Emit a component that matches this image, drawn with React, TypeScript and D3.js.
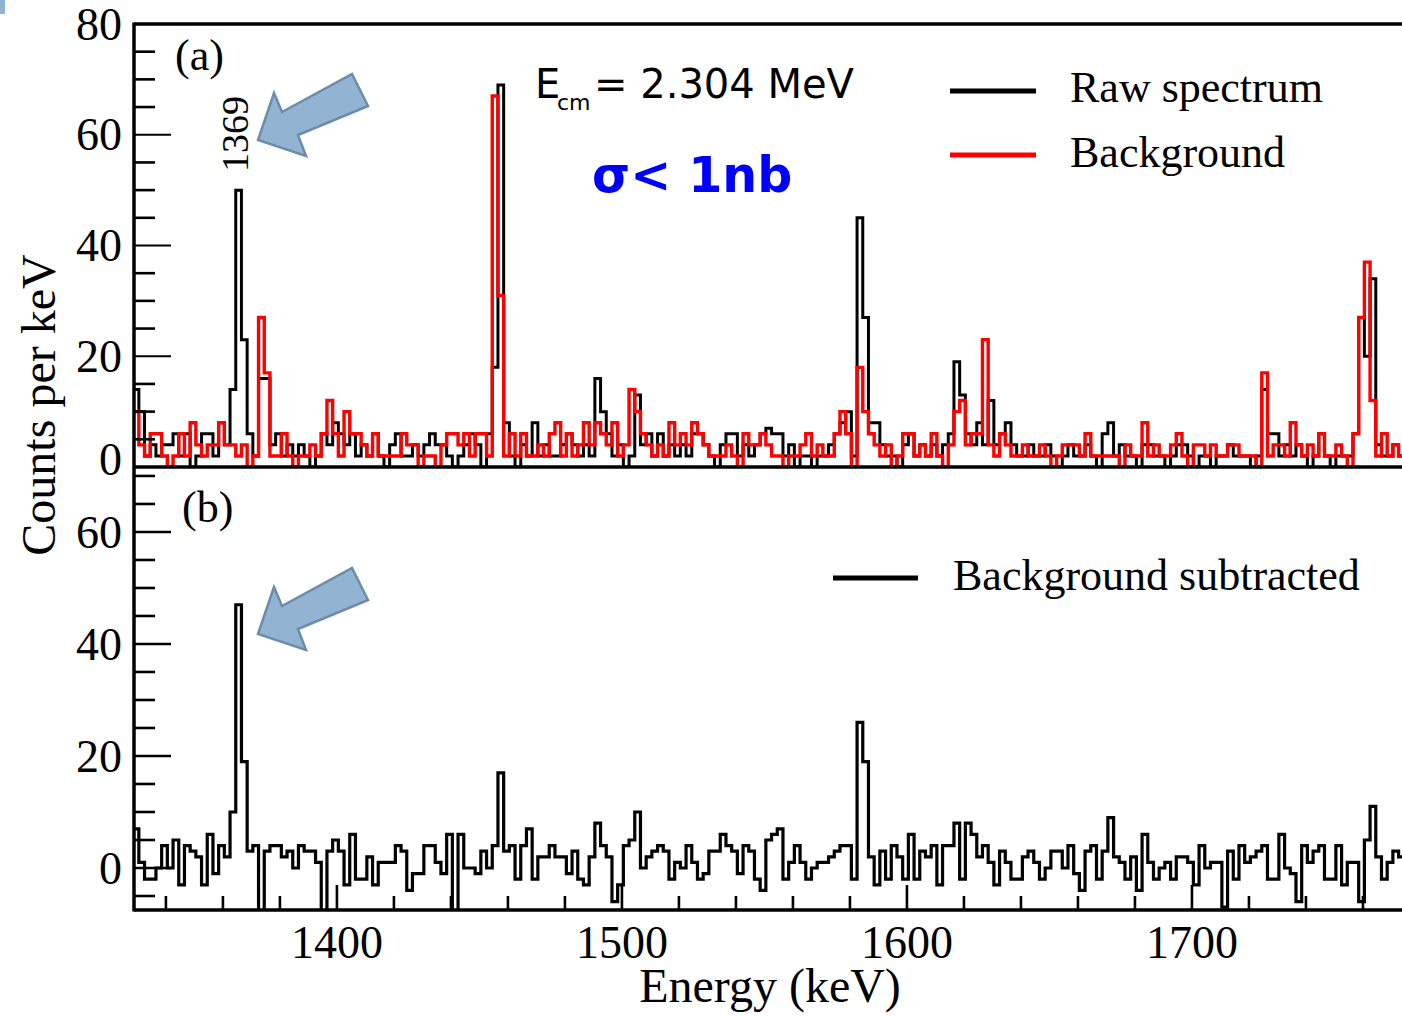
import React from 'react';
import * as d3 from 'd3';

// Histogram binning (keV)
const BIN_START = 1328.5;
const BIN_WIDTH = 2;

// (a) raw spectrum, counts per keV
const rawSpectrum = [
  14, 10, 2, 4, 2, 4, 4, 6, 2, 6,
  0, 2, 6, 6, 2, 8, 4, 14, 50, 23,
  6, 2, 16, 16, 4, 6, 2, 4, 2, 4,
  2, 0, 2, 6, 4, 8, 6, 4, 6, 2,
  4, 2, 6, 2, 0, 4, 6, 2, 2, 4,
  2, 4, 6, 4, 4, 2, 0, 2, 4, 6,
  4, 0, 6, 18, 69, 8, 2, 0, 4, 2,
  8, 2, 4, 2, 2, 4, 6, 4, 2, 4,
  2, 16, 10, 6, 2, 4, 0, 2, 13, 4,
  6, 2, 6, 2, 4, 2, 4, 2, 6, 6,
  4, 2, 0, 4, 6, 6, 2, 4, 2, 4,
  6, 7, 6, 6, 2, 4, 0, 2, 2, 0,
  2, 2, 4, 6, 8, 10, 2, 45, 27, 8,
  8, 4, 2, 2, 0, 4, 6, 2, 4, 2,
  4, 2, 4, 6, 19, 13, 6, 4, 8, 4,
  12, 4, 6, 8, 4, 2, 2, 4, 2, 2,
  4, 2, 0, 2, 4, 2, 2, 4, 2, 0,
  6, 8, 2, 4, 2, 2, 0, 4, 4, 2,
  2, 0, 2, 4, 4, 2, 0, 2, 2, 0,
  2, 2, 4, 2, 2, 2, 0, 2, 14, 6,
  6, 2, 4, 2, 4, 2, 0, 2, 6, 2,
  0, 2, 2, 2, 6, 27, 20, 34, 4, 2,
  2, 4, 2,
];

// (a) background, counts per keV
const background = [
  10, 4, 2, 6, 6, 2, 0, 2, 6, 2,
  8, 4, 2, 4, 4, 8, 4, 4, 2, 4,
  0, 2, 27, 17, 2, 2, 6, 2, 0, 2,
  2, 4, 2, 6, 12, 6, 2, 10, 6, 6,
  4, 2, 6, 2, 2, 2, 2, 6, 4, 4,
  0, 2, 2, 0, 4, 6, 6, 4, 6, 2,
  6, 6, 2, 67, 31, 2, 6, 2, 6, 2,
  2, 4, 2, 6, 8, 2, 6, 2, 4, 8,
  4, 8, 6, 4, 8, 2, 4, 14, 10, 6,
  4, 2, 4, 2, 8, 4, 6, 4, 8, 6,
  4, 2, 2, 2, 4, 2, 0, 6, 4, 4,
  6, 4, 2, 2, 0, 2, 2, 4, 6, 2,
  4, 2, 2, 6, 10, 6, 0, 18, 10, 6,
  4, 2, 4, 0, 2, 6, 6, 2, 4, 2,
  6, 2, 0, 4, 10, 12, 4, 6, 6, 23,
  4, 2, 6, 4, 2, 2, 4, 2, 2, 4,
  2, 0, 2, 4, 4, 4, 2, 6, 2, 2,
  2, 2, 2, 0, 4, 2, 2, 8, 2, 4,
  2, 2, 4, 6, 2, 0, 4, 4, 2, 4,
  2, 2, 4, 4, 2, 2, 2, 0, 17, 2,
  4, 4, 2, 8, 4, 2, 4, 2, 6, 2,
  2, 4, 2, 0, 6, 27, 37, 12, 2, 6,
  2, 4, 2,
];

// (b) background subtracted, counts per keV
const subtracted = [
  7, 1, -2, -2, 0, 4, 0, 5, -3, 4,
  3, 2, -3, 6, -1, 4, 2, 10, 47, 19,
  3, 4, -8, 3, 4, 4, 2, 3, 0, 4,
  3, 3, 1, -8, 3, 5, 3, -3, 6, -2,
  -2, 2, -3, 1, 1, 1, 4, 3, -4, -1,
  -1, 4, 4, 1, -1, 6, -8, 6, 0, 0,
  -1, 3, 0, 4, 17, 3, 4, -2, 4, 7,
  -2, 2, 2, 4, 2, 2, -1, 3, -2, -3,
  2, 8, 4, 2, -6, -3, 4, 5, 10, 0,
  2, 3, 4, 3, -2, 1, 0, 4, 1, -2,
  -1, 3, 3, 6, 4, 3, -1, 4, 3, -2,
  -4, 5, 6, 7, -2, 1, 4, 1, -2, 0,
  1, 1, 2, 3, 4, 4, -2, 26, 19, 2,
  -3, 3, -2, 4, 2, -2, 6, -2, 3, 2,
  4, -3, 4, 4, 8, -2, 8, 6, 2, 4,
  1, -3, 3, 1, -2, -2, 2, 3, 1, -2,
  0, 3, 3, 0, 4, -1, -4, 3, 4, -2,
  3, 9, 2, 1, -2, 2, -4, 6, 1, -2,
  0, 1, -2, 2, 2, 1, -3, 4, 0, 1,
  1, -7, 3, -2, 4, 1, 2, 3, 4, -2,
  -2, 6, 0, -1, -6, 4, 1, 3, 4, -2,
  -2, 4, -3, 1, 1, -6, 5, 11, 2, -2,
  1, 3, 2,
];

const xTickMajor = [1400, 1500, 1600, 1700];
const xTickMinor = [1340, 1360, 1380, 1420, 1440, 1460, 1480, 1520, 1540, 1560, 1580, 1620, 1640, 1660, 1680, 1720, 1740, 1760];
const topYLabels = [0, 20, 40, 60, 80];
const topYMinor = [5, 10, 15, 25, 30, 35, 45, 50, 55, 65, 70, 75];
const topYMajor = [20, 40, 60];
const botYLabels = [0, 20, 40, 60];
const botYMinor = [-5, 5, 10, 15, 25, 30, 35, 45, 50, 55, 65, 70];
const botYMajor = [0, 20, 40, 60];

const W = 1402;
const H = 1016;
const LEFT = 134;
const RIGHT = 1402;
const TOP = 24;
const MID = 467;
const BOTTOM = 910;

const SERIF = '"Liberation Serif", "Times New Roman", serif';
const SANS = '"DejaVu Sans", sans-serif';

const x = d3.scaleLinear().domain([1328.8, 1773.7]).range([LEFT, RIGHT]);
const yTop = d3.scaleLinear().domain([0, 80]).range([MID, TOP]);
const yBot = d3.scaleLinear().domain([-7.5, 71.6]).range([BOTTOM, MID]);

function histPath(values: number[], y: d3.ScaleLinear<number, number>) {
  const pts: [number, number][] = values.map((v, i) => [BIN_START + i * BIN_WIDTH, v]);
  pts.push([BIN_START + values.length * BIN_WIDTH, values[values.length - 1]]);
  const line = d3
    .line<[number, number]>()
    .x((d) => x(d[0]))
    .y((d) => y(d[1]))
    .curve(d3.curveStepAfter);
  return line(pts) || '';
}

const arrowPts = '258,140 274,93 282,112 352,74 368,106 298,135 306,156';

export default function App() {
  return (
    <svg
      width={W}
      height={H}
      viewBox={`0 0 ${W} ${H}`}
      style={{ position: 'absolute', left: 0, top: 0, background: '#fff' }}
    >
      <defs>
        <clipPath id="clipTop">
          <rect x={LEFT} y={TOP} width={RIGHT - LEFT + 10} height={MID - TOP} />
        </clipPath>
        <clipPath id="clipBot">
          <rect x={LEFT} y={MID} width={RIGHT - LEFT + 10} height={BOTTOM - MID} />
        </clipPath>
      </defs>
      <rect x={0} y={0} width={W} height={H} fill="#fff" />
      <rect x={0} y={0} width={5} height={14} fill="#8fb3d6" />

      {/* top panel data */}
      <g clipPath="url(#clipTop)">
        <path d={histPath(rawSpectrum, yTop)} fill="none" stroke="#000" strokeWidth={3} strokeLinejoin="miter" />
        <path d={histPath(background, yTop)} fill="none" stroke="#ff0000" strokeWidth={3.4} strokeLinejoin="miter" />
      </g>
      {/* bottom panel data */}
      <g clipPath="url(#clipBot)">
        <path d={histPath(subtracted, yBot)} fill="none" stroke="#000" strokeWidth={3.2} strokeLinejoin="miter" />
      </g>

      {/* y ticks top */}
      {topYMinor.map((v) => (
        <line key={'tm' + v} x1={LEFT} x2={LEFT + 21} y1={yTop(v)} y2={yTop(v)} stroke="#000" strokeWidth={2.6} />
      ))}
      {topYMajor.map((v) => (
        <line key={'tM' + v} x1={LEFT} x2={LEFT + 37} y1={yTop(v)} y2={yTop(v)} stroke="#000" strokeWidth={2} />
      ))}
      {/* y ticks bottom */}
      {botYMinor.map((v) => (
        <line key={'bm' + v} x1={LEFT} x2={LEFT + 21} y1={yBot(v)} y2={yBot(v)} stroke="#000" strokeWidth={2.6} />
      ))}
      {botYMajor.map((v) => (
        <line key={'bM' + v} x1={LEFT} x2={LEFT + 37} y1={yBot(v)} y2={yBot(v)} stroke="#000" strokeWidth={2.6} />
      ))}
      {/* x ticks bottom */}
      {xTickMinor.map((v) => (
        <line key={'xm' + v} x1={x(v)} x2={x(v)} y1={BOTTOM} y2={BOTTOM - 14} stroke="#000" strokeWidth={2.6} />
      ))}
      {xTickMajor.map((v) => (
        <line key={'xM' + v} x1={x(v)} x2={x(v)} y1={BOTTOM} y2={BOTTOM - 25} stroke="#000" strokeWidth={2.6} />
      ))}

      {/* frame */}
      <line x1={LEFT} x2={LEFT} y1={TOP - 1.5} y2={BOTTOM + 1.5} stroke="#000" strokeWidth={3.5} />
      <line x1={LEFT} x2={W} y1={TOP} y2={TOP} stroke="#000" strokeWidth={3.5} />
      <line x1={LEFT} x2={W} y1={MID} y2={MID} stroke="#000" strokeWidth={3.5} />
      <line x1={LEFT} x2={W} y1={BOTTOM} y2={BOTTOM} stroke="#000" strokeWidth={3.5} />

      {/* y tick labels */}
      {topYLabels.map((v) => (
        <text
          key={'tl' + v}
          x={122}
          y={yTop(v) + (v === 0 ? -8 : 0)}
          dy="0.34em"
          textAnchor="end"
          fontFamily={SERIF}
          fontSize={46}
        >
          {v}
        </text>
      ))}
      {botYLabels.map((v) => (
        <text key={'bl' + v} x={122} y={yBot(v)} dy="0.34em" textAnchor="end" fontFamily={SERIF} fontSize={46}>
          {v}
        </text>
      ))}
      {xTickMajor.map((v) => (
        <text key={'xl' + v} x={x(v)} y={958} textAnchor="middle" fontFamily={SERIF} fontSize={46}>
          {v}
        </text>
      ))}

      {/* axis titles */}
      <text x={770} y={1002} textAnchor="middle" fontFamily={SERIF} fontSize={48}>
        Energy (keV)
      </text>
      <text transform="translate(55,405) rotate(-90)" textAnchor="middle" fontFamily={SERIF} fontSize={48}>
        Counts per keV
      </text>

      {/* panel labels */}
      <text x={175} y={70} fontFamily={SERIF} fontSize={44}>(a)</text>
      <text x={182} y={522} fontFamily={SERIF} fontSize={44}>(b)</text>

      {/* peak label */}
      <text transform="translate(248,134) rotate(-90)" textAnchor="middle" fontFamily={SERIF} fontSize={38}>
        1369
      </text>

      {/* arrows */}
      <polygon points={arrowPts} fill="#93b3d2" stroke="#6d8cab" strokeWidth={2.5} strokeLinejoin="miter" />
      <polygon points={arrowPts} transform="translate(0,494)" fill="#93b3d2" stroke="#6d8cab" strokeWidth={2.5} strokeLinejoin="miter" />

      {/* annotations */}
      <text fontFamily={SANS} fontSize={40} fill="#000">
        <tspan x={535} y={98}>E</tspan>
        <tspan x={557} y={110} fontSize={22}>cm</tspan>
        <tspan x={594} y={98}>= 2.304 MeV</tspan>
      </text>
      <text x={592} y={192} fontFamily={SANS} fontWeight="bold" fontSize={49} fill="#0000ff">
        σ&lt; 1nb
      </text>

      {/* legends */}
      <line x1={950} x2={1036} y1={91} y2={91} stroke="#000" strokeWidth={5} />
      <text x={1070} y={102} fontFamily={SERIF} fontSize={44}>Raw spectrum</text>
      <line x1={950} x2={1036} y1={155} y2={155} stroke="#ff0000" strokeWidth={5} />
      <text x={1070} y={167} fontFamily={SERIF} fontSize={44}>Background</text>
      <line x1={833} x2={918} y1={578} y2={578} stroke="#000" strokeWidth={5} />
      <text x={953} y={590} fontFamily={SERIF} fontSize={44}>Background subtracted</text>
    </svg>
  );
}
